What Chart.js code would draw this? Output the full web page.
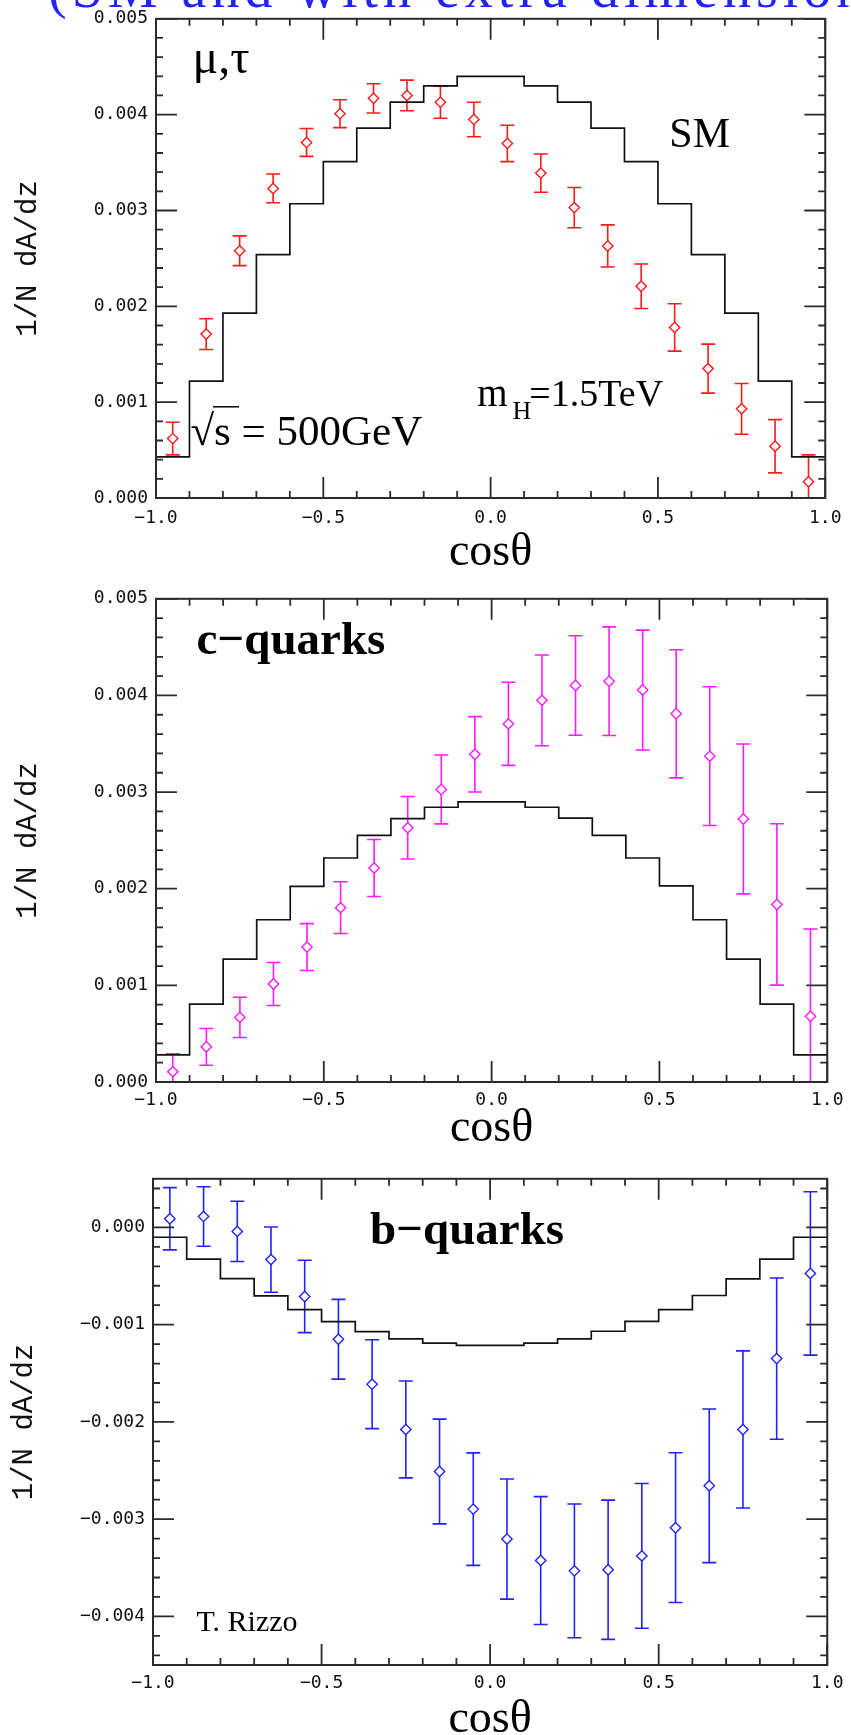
<!DOCTYPE html>
<html lang="en">
<head>
<meta charset="UTF-8">
<title>cos theta distributions</title>
<script src="https://cdn.jsdelivr.net/npm/chart.js"></script>
<style>
  html, body { margin: 0; padding: 0; background: #fff; overflow: hidden; }
  body { width: 851px; height: 1735px; position: relative; }
  .banner { position: absolute; left: 0; top: 0; }
  canvas { position: absolute; left: 0; }
</style>
</head>
<body>
<!-- heading line of the page, cut off at the top edge -->
<svg class="banner" width="851" height="40">
  <text x="48" y="7" font-family="Liberation Serif" font-size="56" letter-spacing="5" fill="#2222ff">(SM and with extra dimensions</text>
</svg>
<canvas id="c1" width="851" height="580" style="top:0px"></canvas>
<canvas id="c2" width="851" height="580" style="top:580px"></canvas>
<canvas id="c3" width="851" height="575" style="top:1160px"></canvas>

<script>
// bin centres in cos(theta), 20 bins of width 0.1
var cosBins = [-0.95, -0.85, -0.75, -0.65, -0.55, -0.45, -0.35, -0.25, -0.15, -0.05,
               0.05, 0.15, 0.25, 0.35, 0.45, 0.55, 0.65, 0.75, 0.85, 0.95];
var xTickValues = [-1, -0.5, 0, 0.5, 1];

// all y values below are in units of 1e-3
var smMuTau   = [0.43, 1.22, 1.93, 2.54, 3.07, 3.51, 3.86, 4.13, 4.30, 4.40,
                 4.40, 4.30, 4.13, 3.86, 3.51, 3.07, 2.54, 1.93, 1.22, 0.43];
var dataMuTau = [0.62, 1.71, 2.58, 3.23, 3.71, 4.01, 4.17, 4.20, 4.13, 3.95,
                 3.70, 3.39, 3.03, 2.63, 2.21, 1.78, 1.35, 0.93, 0.54, 0.17];
var errMuTau  = [0.17, 0.16, 0.155, 0.15, 0.145, 0.146, 0.153, 0.16, 0.167, 0.18,
                 0.19, 0.20, 0.21, 0.22, 0.232, 0.247, 0.256, 0.265, 0.278, 0.28];

var smCharm   = [0.28, 0.805, 1.272, 1.679, 2.025, 2.318, 2.553, 2.726, 2.843, 2.898,
                 2.898, 2.843, 2.73, 2.553, 2.318, 2.029, 1.679, 1.272, 0.805, 0.28];
var dataCharm = [0.107, 0.364, 0.669, 1.014, 1.396, 1.804, 2.215, 2.631, 3.027, 3.391,
                 3.706, 3.949, 4.103, 4.147, 4.056, 3.81, 3.372, 2.722, 1.837, 0.68];
var errCharm  = [0.184, 0.19, 0.208, 0.222, 0.243, 0.268, 0.295, 0.323, 0.356, 0.39,
                 0.43, 0.47, 0.515, 0.562, 0.62, 0.663, 0.718, 0.775, 0.835, 0.903];

var smBottom   = [-0.101, -0.327, -0.526, -0.703, -0.845, -0.969, -1.071, -1.146, -1.19, -1.214,
                  -1.214, -1.19, -1.146, -1.068, -0.966, -0.845, -0.70, -0.53, -0.327, -0.101];
var dataBottom = [0.089, 0.113, -0.041, -0.331, -0.71, -1.15, -1.612, -2.078, -2.51, -2.897,
                  -3.205, -3.426, -3.532, -3.52, -3.378, -3.088, -2.657, -2.078, -1.349, -0.473];
var errBottom  = [0.32, 0.306, 0.31, 0.336, 0.372, 0.41, 0.457, 0.498, 0.539, 0.578,
                  0.618, 0.658, 0.688, 0.716, 0.744, 0.77, 0.79, 0.808, 0.829, 0.84];

var yTicksPos = [0, 1, 2, 3, 4, 5];       // labelled, 1e-3
var yTicksNeg = [0, -1, -2, -3, -4];

var E3 = 0.001;
var tickFont = { family: 'DejaVu Sans Mono', size: 18 };

function fmt(v, d) {
  return (v < -1e-12 ? '\u2212' : '') + Math.abs(v).toFixed(d);
}

function stepTicks(k0, k1, step) {
  var t = [];
  for (var k = k0; k <= k1; k++) t.push({ value: k * step });
  return t;
}

function histPoints(vals) {
  var pts = cosBins.map(function (c, i) { return { x: c - 0.05, y: vals[i] * E3 }; });
  pts.push({ x: 1, y: vals[vals.length - 1] * E3 });
  return pts;
}

function markerPoints(vals) {
  return cosBins.map(function (c, i) { return { x: c, y: vals[i] * E3 }; });
}

// vertical error bars with caps, drawn under the markers
function errorBars(vals, errs, color) {
  return {
    id: 'errorBars',
    beforeDatasetsDraw: function (chart) {
      var ctx = chart.ctx, a = chart.chartArea, sx = chart.scales.x, sy = chart.scales.y;
      ctx.save();
      ctx.beginPath();
      ctx.rect(a.left, a.top, a.right - a.left, a.bottom - a.top);
      ctx.clip();
      ctx.strokeStyle = color;
      ctx.lineWidth = 1.6;
      ctx.beginPath();
      cosBins.forEach(function (c, i) {
        var px = sx.getPixelForValue(c);
        var hi = sy.getPixelForValue((vals[i] + errs[i]) * E3);
        var lo = sy.getPixelForValue((vals[i] - errs[i]) * E3);
        ctx.moveTo(px, hi); ctx.lineTo(px, lo);
        ctx.moveTo(px - 7, hi); ctx.lineTo(px + 7, hi);
        ctx.moveTo(px - 7, lo); ctx.lineTo(px + 7, lo);
      });
      ctx.stroke();
      ctx.restore();
    }
  };
}

// box + inward ticks on all four sides
var frameTicks = {
  id: 'frameTicks',
  afterDraw: function (chart) {
    var ctx = chart.ctx, a = chart.chartArea, sx = chart.scales.x, sy = chart.scales.y;
    ctx.save();
    ctx.strokeStyle = '#2b2b2b';
    ctx.lineWidth = 1.8;
    ctx.beginPath();
    sx.ticks.forEach(function (t) {
      var p = sx.getPixelForValue(t.value), len = t.label ? 21 : 7;
      ctx.moveTo(p, a.bottom); ctx.lineTo(p, a.bottom - len);
      ctx.moveTo(p, a.top); ctx.lineTo(p, a.top + len);
    });
    sy.ticks.forEach(function (t) {
      var p = sy.getPixelForValue(t.value), len = t.label ? 21 : 7;
      ctx.moveTo(a.left, p); ctx.lineTo(a.left + len, p);
      ctx.moveTo(a.right, p); ctx.lineTo(a.right - len, p);
    });
    ctx.stroke();
    ctx.lineWidth = 2;
    ctx.strokeRect(a.left, a.top, a.right - a.left, a.bottom - a.top);
    ctx.restore();
  }
};

function textLayer(draw) {
  return {
    id: 'texts',
    afterDraw: function (chart) {
      var ctx = chart.ctx, sx = chart.scales.x, sy = chart.scales.y;
      ctx.save();
      ctx.fillStyle = '#000';
      ctx.strokeStyle = '#000';
      ctx.textAlign = 'left';
      ctx.textBaseline = 'alphabetic';
      draw(ctx, function (v) { return sx.getPixelForValue(v); }, function (v) { return sy.getPixelForValue(v); });
      ctx.restore();
    }
  };
}

function panel(id, cfg) {
  return new Chart(document.getElementById(id), {
    type: 'scatter',
    data: {
      datasets: [
        {
          type: 'line', data: histPoints(cfg.sm), stepped: true,
          borderColor: '#111', borderWidth: 1.7, pointRadius: 0, fill: false, order: 2
        },
        {
          data: markerPoints(cfg.vals), pointStyle: 'rectRot', pointRadius: 5.2,
          pointBorderColor: cfg.color, pointBackgroundColor: '#fff', pointBorderWidth: 1.4,
          borderColor: cfg.color, backgroundColor: '#fff', order: 1
        }
      ]
    },
    options: {
      responsive: false,
      animation: false,
      devicePixelRatio: 1,
      layout: { padding: { top: cfg.top, right: cfg.right, left: 0, bottom: 0 } },
      plugins: { legend: { display: false }, tooltip: { enabled: false } },
      scales: {
        x: {
          type: 'linear', min: -1, max: 1,
          grid: { display: false, drawTicks: false },
          border: { display: false },
          afterBuildTicks: function (s) { s.ticks = stepTicks(-10, 10, 0.1); },
          afterFit: function (s) { s.height = cfg.xAxisH; },
          ticks: {
            autoSkip: false, maxRotation: 0, minRotation: 0, padding: cfg.xLabelPad,
            color: '#111', font: tickFont,
            callback: function (v) {
              var hit = xTickValues.filter(function (t) { return Math.abs(t - v) < 1e-9; });
              return hit.length ? fmt(hit[0], 1) : '';
            }
          },
          title: {
            display: true, text: 'cos\u03B8', color: '#000',
            font: { family: 'Liberation Serif', size: 46, lineHeight: 0.5 },
            padding: { top: 0, bottom: cfg.xTitlePad }
          }
        },
        y: {
          type: 'linear', min: cfg.ymin, max: cfg.ymax,
          grid: { display: false, drawTicks: false },
          border: { display: false },
          afterBuildTicks: function (s) { s.ticks = stepTicks(cfg.k0, cfg.k1, 0.0002); },
          afterFit: function (s) { s.width = cfg.left; },
          ticks: {
            autoSkip: false, padding: 8, color: '#111', font: tickFont,
            callback: function (v) {
              var hit = cfg.yTicks.filter(function (t) { return Math.abs(t * E3 - v) < 1e-9; });
              return hit.length ? fmt(hit[0] * E3, 3) : '';
            }
          },
          title: {
            display: true, text: '1/N dA/dz', color: '#111',
            font: { family: 'Liberation Mono', size: 29, lineHeight: 1.2 },
            padding: { top: cfg.yTitlePad, bottom: 0 }
          }
        }
      }
    },
    plugins: [errorBars(cfg.vals, cfg.errs, cfg.color), frameTicks, textLayer(cfg.draw)]
  });
}

panel('c1', {
  sm: smMuTau, vals: dataMuTau, errs: errMuTau, color: '#ff1a1a',
  ymin: 0, ymax: 0.005, k0: 0, k1: 25, yTicks: yTicksPos,
  top: 13, right: 18, left: 156, xAxisH: 82, xLabelPad: 9.5, xTitlePad: 16, yTitlePad: 10.6,
  draw: function (ctx, px, py) {
    ctx.font = '48px "Liberation Serif"';
    ctx.fillText('\u03BC,\u03C4', px(-0.891), py(0.00443));
    ctx.font = '42px "Liberation Serif"';
    ctx.fillText('SM', px(0.534), py(0.00366));

    var x0 = px(-0.04), y0 = py(0.00096);
    ctx.font = '39px "Liberation Serif"';
    ctx.fillText('m', x0, y0);
    var x1 = x0 + ctx.measureText('m').width + 5;
    ctx.font = '26px "Liberation Serif"';
    ctx.fillText('H', x1, y0 + 13);
    var x2 = x1 + ctx.measureText('H').width - 2;
    ctx.font = '38px "Liberation Serif"';
    ctx.fillText('=1.5TeV', x2, y0);

    var x3 = px(-0.897), y3 = py(0.00055);
    ctx.font = '43px "Liberation Serif"';
    ctx.fillText('\u221A', x3, y3);
    var w = ctx.measureText('\u221A').width;
    ctx.fillText('s = 500GeV', x3 + w, y3);
    ctx.lineWidth = 1.5;
    ctx.beginPath();
    ctx.moveTo(x3 + w - 1, y3 - 38.5);
    ctx.lineTo(x3 + w + 25, y3 - 38.5);
    ctx.stroke();
  }
});

panel('c2', {
  sm: smCharm, vals: dataCharm, errs: errCharm, color: '#ff1aff',
  ymin: 0, ymax: 0.005, k0: 0, k1: 25, yTicks: yTicksPos,
  top: 16, right: 18, left: 156, xAxisH: 78, xLabelPad: 7.5, xTitlePad: 20, yTitlePad: 10.6,
  draw: function (ctx, px, py) {
    ctx.font = 'bold 47px "Liberation Serif"';
    ctx.fillText('c\u2212quarks', px(-0.879), py(0.00443));
  }
});

panel('c3', {
  sm: smBottom, vals: dataBottom, errs: errBottom, color: '#2222ff',
  ymin: -0.0045, ymax: 0.0005, k0: -22, k1: 2, yTicks: yTicksNeg,
  top: 16, right: 15, left: 153, xAxisH: 70, xLabelPad: 7.5, xTitlePad: 4, yTitlePad: 6.6,
  draw: function (ctx, px, py) {
    ctx.font = 'bold 47px "Liberation Serif"';
    ctx.fillText('b\u2212quarks', px(-0.356), py(-0.000174));
    ctx.font = '30px "Liberation Serif"';
    ctx.fillText('T. Rizzo', px(-0.871), py(-0.00415));
  }
});
</script>
</body>
</html>
